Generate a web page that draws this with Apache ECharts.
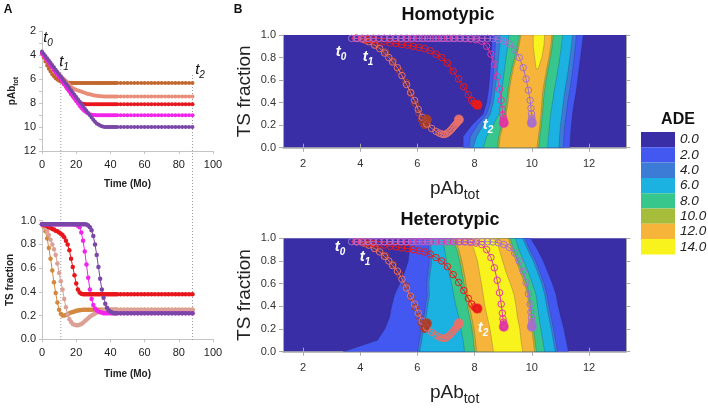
<!DOCTYPE html>
<html>
<head>
<meta charset="utf-8">
<script src="https://cdn.jsdelivr.net/npm/echarts@6/dist/echarts.min.js"></script>
<style>
  html, body { margin: 0; padding: 0; background: #fff; }
  #chart { width: 708px; height: 409px; }
</style>
</head>
<body>
<div id="chart"></div>
<script>
// time points of the model runs (months)
const months = [0,1,2,3,4,5,6,7,8,9,10,11,12,13,14,15,16,17,18,19,20,21,22,23,24,25,26,27,28,29,30,31,32,33,34,35,36,37,38,39,40,41,42,43,44,
  46,48,50,52,54,56,58,60,62,64,66,68,70,72,74,76,78,80,82,84,86,88];

// pAb_tot over time, one array per run
const pabBrown = [3.85,4.2,4.55,4.88,5.15,5.38,5.6,5.78,5.93,6.05, 6.14,6.2,6.24,6.27,6.29,6.3,6.31,6.32,6.33,6.33,
  6.33,6.33,6.33,6.33,6.33,6.33,6.33,6.33,6.33,6.33, 6.33,6.33,6.33,6.33,6.33,6.33,6.33,6.33,6.33,6.33, 6.33,6.33,6.33,6.33,6.33,
  6.33,6.33,6.33,6.33,6.33,6.33,6.33,6.33,6.33,6.33,6.33,6.33,6.33,6.33,6.33,6.33,6.33,6.33,6.33,6.33,6.33,6.33];
const pabSalmon = [3.9,4.1,4.3,4.5,4.68,4.85,5.0,5.13,5.3,5.46, 5.62,5.76,5.9,6.03,6.17,6.33,6.5,6.65,6.76,6.84,
  6.9,6.95,7.0,7.05,7.1,7.15,7.2,7.24,7.28,7.32, 7.35,7.38,7.4,7.42,7.43,7.44,7.45,7.45,7.45,7.45, 7.45,7.45,7.45,7.45,7.45,
  7.45,7.45,7.45,7.45,7.45,7.45,7.45,7.45,7.45,7.45,7.45,7.45,7.45,7.45,7.45,7.45,7.45,7.45,7.45,7.45,7.45,7.45];
const pabRed = [3.85,4.05,4.25,4.45,4.65,4.85,5.05,5.25,5.45,5.65, 5.85,6.05,6.25,6.45,6.65,6.85,7.05,7.25,7.44,7.62,
  7.78,7.9,7.98,8.03,8.06,8.08,8.1,8.1,8.1,8.1, 8.1,8.1,8.1,8.1,8.1,8.1,8.1,8.1,8.1,8.1, 8.1,8.1,8.1,8.1,8.1,
  8.1,8.1,8.1,8.1,8.1,8.1,8.1,8.1,8.1,8.1,8.1,8.1,8.1,8.1,8.1,8.1,8.1,8.1,8.1,8.1,8.1,8.1];
const pabMagenta = [3.85,4.05,4.25,4.45,4.65,4.85,5.05,5.25,5.45,5.65, 5.85,6.05,6.25,6.45,6.65,6.85,7.05,7.25,7.45,7.65,
  7.85,8.05,8.25,8.42,8.57,8.69,8.79,8.87,8.93,8.97, 8.99,9.01,9.02,9.02,9.02,9.02,9.02,9.02,9.02,9.02, 9.02,9.02,9.02,9.02,9.02,
  9.02,9.02,9.02,9.02,9.02,9.02,9.02,9.02,9.02,9.02,9.02,9.02,9.02,9.02,9.02,9.02,9.02,9.02,9.02,9.02,9.02,9.02];
const pabPurple = [3.7,3.89,4.08,4.27,4.46,4.65,4.84,5.03,5.22,5.41, 5.6,5.79,5.98,6.17,6.36,6.55,6.74,6.93,7.12,7.31,
  7.5,7.69,7.88,8.07,8.26,8.45,8.64,8.83,9.02,9.21, 9.4,9.56,9.7,9.8,9.88,9.94,9.97,9.99,10,10, 10,10,10,10,10,
  10,10,10,10,10,10,10,10,10,10,10,10,10,10,10,10,10,10,10,10,10,10];

// TS fraction over time, one array per run
const tsBrown = [0.97,0.95,0.91,0.85,0.77,0.68,0.58,0.48,0.39,0.31, 0.25,0.215,0.2,0.2,0.205,0.21,0.22,0.225,0.23,0.235,
  0.24,0.243,0.245,0.247,0.25,0.25,0.25,0.25,0.25,0.25, 0.25,0.25,0.25,0.25,0.25,0.25,0.25,0.25,0.25,0.25, 0.25,0.25,0.25,0.25,0.25,
  0.25,0.25,0.25,0.25,0.25,0.25,0.25,0.25,0.25,0.25,0.25,0.25,0.25,0.25,0.25,0.25,0.25,0.25,0.25,0.25,0.25,0.25];
const tsSalmon = [0.97,0.96,0.94,0.91,0.88,0.84,0.8,0.76,0.71,0.64, 0.56,0.49,0.42,0.34,0.27,0.21,0.17,0.145,0.13,0.122,
  0.118,0.118,0.122,0.13,0.14,0.152,0.165,0.178,0.19,0.2, 0.21,0.218,0.225,0.23,0.235,0.24,0.243,0.246,0.248,0.25, 0.25,0.25,0.25,0.25,0.25,
  0.25,0.25,0.25,0.25,0.25,0.25,0.25,0.25,0.25,0.25,0.25,0.25,0.25,0.25,0.25,0.25,0.25,0.25,0.25,0.25,0.25,0.25];
const tsRed = [0.97,0.965,0.96,0.955,0.945,0.94,0.93,0.925,0.915,0.91, 0.9,0.89,0.88,0.86,0.83,0.8,0.75,0.68,0.61,0.54,
  0.47,0.42,0.395,0.385,0.38,0.38,0.38,0.38,0.38,0.38, 0.38,0.38,0.38,0.38,0.38,0.38,0.38,0.38,0.38,0.38, 0.38,0.38,0.38,0.38,0.38,
  0.38,0.38,0.38,0.38,0.38,0.38,0.38,0.38,0.38,0.38,0.38,0.38,0.38,0.38,0.38,0.38,0.38,0.38,0.38,0.38,0.38,0.38];
const tsMagenta = [0.97,0.97,0.97,0.97,0.97,0.97,0.97,0.97,0.97,0.97, 0.97,0.97,0.97,0.97,0.97,0.97,0.97,0.97,0.97,0.968,
  0.965,0.958,0.945,0.9,0.83,0.74,0.63,0.52,0.42,0.34, 0.29,0.26,0.245,0.235,0.228,0.225,0.22,0.22,0.22,0.22, 0.22,0.22,0.22,0.22,0.22,
  0.22,0.22,0.22,0.22,0.22,0.22,0.22,0.22,0.22,0.22,0.22,0.22,0.22,0.22,0.22,0.22,0.22,0.22,0.22,0.22,0.22,0.22];
const tsPurple = [0.97,0.97,0.97,0.97,0.97,0.97,0.97,0.97,0.97,0.97, 0.97,0.97,0.97,0.97,0.97,0.97,0.97,0.97,0.97,0.97,
  0.97,0.97,0.97,0.97,0.97,0.97,0.968,0.96,0.945,0.92, 0.87,0.8,0.71,0.61,0.51,0.42,0.35,0.3,0.265,0.245, 0.232,0.225,0.22,0.22,0.22,
  0.22,0.22,0.22,0.22,0.22,0.22,0.22,0.22,0.22,0.22,0.22,0.22,0.22,0.22,0.22,0.22,0.22,0.22,0.22,0.22,0.22,0.22];

// t1 and t2 (months)
const markTimes = [11, 88];

// ADE contour levels and legend labels
const adeLevels = [0, 2, 4, 6, 8, 10, 12, 14];
const adeLabels = ['0.0', '2.0', '4.0', '6.0', '8.0', '10.0', '12.0', '14.0'];
const pabTicks = [2, 4, 6, 8, 10, 12];

// contour boundaries: pAb position of each level's left/right edge at these TS rows
const tsRows = [0, 0.1, 0.2, 0.3, 0.4, 0.5, 0.6, 0.7, 0.8, 0.9, 1];

const homoLeft2 = [7.6,7.6,7.9,8.3,8.42,8.48,8.52,8.55,8.58,8.6,8.62];
const homoRight2 = [11.33,11.35,11.38,11.42,11.48,11.55,11.6,11.65,11.7,11.75,11.8];
const homoLeft4 = [7.8,7.85,8.1,8.42,8.55,8.6,8.64,8.67,8.7,8.72,8.74];
const homoRight4 = [11.1,11.12,11.15,11.2,11.25,11.32,11.38,11.43,11.48,11.52,11.56];
const homoLeft6 = [7.95,8.07,8.3,8.55,8.65,8.71,8.76,8.8,8.84,8.88,8.9];
const homoRight6 = [10.95,10.97,11.0,11.05,11.1,11.15,11.22,11.28,11.33,11.38,11.42];
const homoLeft8 = [8.3,8.42,8.65,8.85,8.92,8.95,9.0,9.05,9.1,9.16,9.2];
const homoRight8 = [10.55,10.58,10.62,10.66,10.72,10.78,10.85,10.92,10.98,11.03,11.08];
const homoLeft10 = [8.8,8.84,8.95,9.05,9.12,9.16,9.22,9.3,9.4,9.5,9.57];
const homoRight10 = [10.24,10.28,10.33,10.37,10.4,10.44,10.5,10.57,10.65,10.71,10.75];
const homoLeft12 = [8.85,8.89,9.0,9.1,9.17,9.21,9.27,9.35,9.45,9.55,9.62];
const homoRight12 = [10.18,10.23,10.28,10.32,10.35,10.38,10.45,10.52,10.6,10.66,10.7];
const homoLeft14 = [null,null,null,null,null,null,null,10.15,10.1,10.05,10.05];
const homoRight14 = [null,null,null,null,null,null,null,10.22,10.35,10.42,10.45];

const heteroLeft2 = [3.4,4.6,4.86,5.02,5.1,5.2,5.38,5.55,5.68,5.72,5.75];
const heteroRight2 = [11.28,11.2,11.12,11.02,10.92,10.85,10.72,10.56,10.4,10.2,9.95];
const heteroLeft4 = [6.0,6.07,6.14,6.22,6.28,6.34,6.32,6.37,6.42,6.4,6.36];
const heteroRight4 = [10.9,10.83,10.76,10.68,10.6,10.53,10.43,10.28,10.13,9.93,9.76];
const heteroLeft6 = [6.08,6.15,6.22,6.3,6.36,6.42,6.4,6.45,6.5,6.48,6.44];
const heteroRight6 = [10.82,10.75,10.68,10.6,10.52,10.45,10.35,10.2,10.05,9.85,9.68];
const heteroLeft8 = [7.65,7.6,7.52,7.45,7.35,7.27,7.2,7.1,7.02,6.95,6.9];
const heteroRight8 = [10.45,10.38,10.32,10.25,10.2,10.15,10.02,9.88,9.72,9.55,9.42];
const heteroLeft10 = [8.0,7.96,7.91,7.83,7.75,7.69,7.63,7.56,7.48,7.38,7.23];
const heteroRight10 = [10.16,10.11,10.06,10.01,9.96,9.91,9.81,9.66,9.51,9.36,9.24];
const heteroLeft12 = [8.07,8.03,7.98,7.9,7.82,7.76,7.7,7.63,7.55,7.45,7.3];
const heteroRight12 = [10.1,10.05,10.0,9.95,9.9,9.85,9.75,9.6,9.45,9.3,9.18];
const heteroLeft14 = [8.66,8.6,8.54,8.45,8.36,8.3,8.24,8.17,8.1,7.98,7.84];
const heteroRight14 = [9.68,9.62,9.58,9.5,9.45,9.38,9.25,9.1,8.98,8.86,8.77];

// ---- styling ----
const FONT = '"Liberation Sans", Arial, sans-serif';
const adeColors = ['#3a2ea6', '#4258f0', '#3c7bd6', '#1bb2e2', '#37c78d', '#a6bd3b', '#f6b53a', '#f8f31c'];
const colorsTop = ['#c0682e', '#e98d78', '#e8161c', '#f224ea', '#7a46a8'];
const colorsBottom = ['#d4883f', '#dba096', '#e8161c', '#f224ea', '#7a46a8'];
const colorsB = ['#a83e2a', '#e8716a', '#ea1a1a', '#e236a4', '#a56ed0'];

const runPab = [pabBrown, pabSalmon, pabRed, pabMagenta, pabPurple];
const runTs = [tsBrown, tsSalmon, tsRed, tsMagenta, tsPurple];

const homoBands = [
  [2, homoLeft2, homoRight2], [4, homoLeft4, homoRight4], [6, homoLeft6, homoRight6],
  [8, homoLeft8, homoRight8], [10, homoLeft10, homoRight10], [12, homoLeft12, homoRight12],
  [14, homoLeft14, homoRight14]
];
const heteroBands = [
  [2, heteroLeft2, heteroRight2], [4, heteroLeft4, heteroRight4], [6, heteroLeft6, heteroRight6],
  [8, heteroLeft8, heteroRight8], [10, heteroLeft10, heteroRight10], [12, heteroLeft12, heteroRight12],
  [14, heteroLeft14, heteroRight14]
];

const gray = '#a8a8a8';
const subRich = (size, sub, bold, drop) => ({
  a: { fontSize: size, fontWeight: bold ? 'bold' : 'normal', color: '#222', lineHeight: size + 6, fontFamily: FONT },
  s: { fontSize: sub, fontWeight: bold ? 'bold' : 'normal', color: '#222', lineHeight: size + 6, verticalAlign: 'bottom', padding: [drop, 0, 0, 0], fontFamily: FONT }
});

// axes of panel A
function axisA(gridIndex, extra) {
  return Object.assign({
    gridIndex: gridIndex,
    type: 'value',
    axisLine: { show: true, lineStyle: { color: '#c4c4c4' } },
    axisTick: { show: true, length: 3, lineStyle: { color: '#c4c4c4' } },
    axisLabel: { color: '#222', fontSize: 11, fontFamily: FONT },
    splitLine: { show: false }
  }, extra);
}

// axes of panel B
function axisB(gridIndex, extra) {
  return Object.assign({
    gridIndex: gridIndex,
    type: 'value',
    axisLine: { show: true, lineStyle: { color: gray, width: 1 } },
    axisTick: { show: true, length: 4, inside: false, lineStyle: { color: gray } },
    axisLabel: { color: '#333', fontSize: 11, fontFamily: FONT },
    splitLine: { show: false }
  }, extra);
}

const tsAxisB = (gridIndex, right) => axisB(gridIndex, {
  min: 0, max: 1, interval: 0.2,
  position: right ? 'right' : 'left',
  axisLabel: right ? { show: false } : { color: '#333', fontSize: 11, margin: 7, formatter: v => v.toFixed(1) },
  name: right ? '' : 'TS fraction',
  nameLocation: 'middle', nameGap: 29,
  nameTextStyle: { fontSize: 19, color: '#222', fontFamily: FONT }
});

const pabAxisB = (gridIndex, top) => axisB(gridIndex, {
  min: 1.3, max: 13.3,
  position: top ? 'top' : 'bottom',
  axisLine: { show: !top, lineStyle: { color: gray, width: 1.5 } },
  axisTick: { show: true, length: 4, customValues: pabTicks, lineStyle: { color: gray } },
  axisLabel: top ? { show: false } : { color: '#333', fontSize: 11, margin: 11, customValues: pabTicks },
  name: top ? '' : '{a|pAb}{s|tot}',
  nameLocation: 'middle', nameGap: 29,
  nameTextStyle: { rich: subRich(19, 14, false, 10) }
});

function contourSeries(bands, axisIndex) {
  return {
    type: 'custom',
    xAxisIndex: axisIndex, yAxisIndex: axisIndex,
    silent: true, clip: true, z: 1,
    data: bands.map(b => [b[0], 0]),
    renderItem: function (params, api) {
      const band = bands[params.dataIndex];
      const pts = [];
      for (let i = 0; i < tsRows.length; i++) {
        if (band[1][i] != null) pts.push(api.coord([band[1][i], tsRows[i]]));
      }
      for (let i = tsRows.length - 1; i >= 0; i--) {
        if (band[2][i] != null) pts.push(api.coord([band[2][i], tsRows[i]]));
      }
      return {
        type: 'polygon',
        shape: { points: pts },
        style: { fill: api.visual('color'), stroke: 'rgba(30,30,70,0.35)', lineWidth: 0.6 }
      };
    }
  };
}

const series = [contourSeries(homoBands, 2), contourSeries(heteroBands, 4)];

// panel A: pAb and TS fraction over time
runPab.forEach((arr, k) => {
  series.push({
    type: 'line', xAxisIndex: 0, yAxisIndex: 0, silent: true, z: 3,
    data: months.map((t, i) => [t, arr[i]]),
    symbol: 'circle', symbolSize: 4, showAllSymbol: true,
    lineStyle: { color: colorsTop[k], width: 1.2 },
    itemStyle: { color: colorsTop[k] }
  });
});
runTs.forEach((arr, k) => {
  series.push({
    type: 'line', xAxisIndex: 1, yAxisIndex: 1, silent: true, z: 3,
    data: months.map((t, i) => [t, arr[i]]),
    symbol: 'circle', symbolSize: 4.5, showAllSymbol: true,
    lineStyle: { color: colorsBottom[k], width: 1 },
    itemStyle: { color: colorsBottom[k] }
  });
});

// panel B: trajectories in the (pAb, TS) plane
[2, 4].forEach(ax => {
  runPab.forEach((arr, k) => {
    const pts = arr.map((x, i) => [x, runTs[k][i]]);
    series.push({
      type: 'line', xAxisIndex: ax, yAxisIndex: ax, silent: true, z: 3,
      data: pts,
      symbol: 'circle', symbolSize: 6.5, showAllSymbol: true,
      lineStyle: { color: colorsB[k], width: 1 },
      itemStyle: { color: 'rgba(0,0,0,0)', borderColor: colorsB[k], borderWidth: 1 }
    });
    series.push({
      type: 'scatter', xAxisIndex: ax, yAxisIndex: ax, silent: true, z: 4,
      data: [pts[pts.length - 1]],
      symbolSize: 10,
      itemStyle: { color: colorsB[k] }
    });
  });
});

// dotted t1 / t2 lines crossing both A panels
markTimes.forEach((t, i) => {
  series.push({
    type: 'line', xAxisIndex: 6, yAxisIndex: 6, silent: true, z: 0,
    data: [[t, 0], [t, i === 0 ? 0.92 : 0.86]],
    symbol: 'none',
    lineStyle: { color: '#9a9a9a', width: 1, type: [1, 2] }
  });
});

const tRich = (color, bold) => ({
  a: { fontSize: 15, fontStyle: 'italic', fontWeight: bold ? 'bold' : 'normal', fill: color, color: color, lineHeight: 20, fontFamily: FONT },
  s: { fontSize: 10, fontStyle: 'italic', fontWeight: bold ? 'bold' : 'normal', fill: color, color: color, lineHeight: 20, verticalAlign: 'bottom', padding: [7, 0, 0, 0], fontFamily: FONT }
});
function tLabel(x, y, n, color, bold) {
  return {
    type: 'text', x: x, y: y, z: 100, silent: true,
    style: { text: '{a|t}{s|' + n + '}', rich: tRich(color, bold), align: 'center', verticalAlign: 'middle' }
  };
}
function plainText(x, y, text, size, extra) {
  return {
    type: 'text', x: x, y: y, z: 100, silent: true,
    style: Object.assign({ text: text, font: 'bold ' + size + 'px ' + FONT, fill: '#111', align: 'center', verticalAlign: 'middle' }, extra || {})
  };
}

const option = {
  animation: false,
  backgroundColor: '#fff',
  textStyle: { fontFamily: FONT },
  grid: [
    { left: 42, top: 31, width: 171, height: 120 },
    { left: 42, top: 220.7, width: 171, height: 118.6 },
    { left: 283, top: 35, width: 343.2, height: 112.7, show: true, backgroundColor: adeColors[0], borderWidth: 0 },
    { left: 283, top: 238.3, width: 343.2, height: 113.4, show: true, backgroundColor: adeColors[0], borderWidth: 0 },
    { left: 42, top: 31, width: 171, height: 309 }
  ],
  xAxis: [
    axisA(0, { min: 0, max: 100, interval: 20, axisLabel: { color: '#222', fontSize: 11, margin: 8 },
      name: 'Time (Mo)', nameLocation: 'middle', nameGap: 28, nameTextStyle: { fontWeight: 'bold', fontSize: 10, color: '#222' } }),
    axisA(1, { min: 0, max: 100, interval: 20, axisLabel: { color: '#222', fontSize: 11, margin: 8 },
      name: 'Time (Mo)', nameLocation: 'middle', nameGap: 30, nameTextStyle: { fontWeight: 'bold', fontSize: 10, color: '#222' } }),
    pabAxisB(2, false),
    pabAxisB(2, true),
    pabAxisB(3, false),
    pabAxisB(3, true),
    { gridIndex: 4, type: 'value', min: 0, max: 100, show: false }
  ],
  yAxis: [
    axisA(0, { min: 2, max: 12, interval: 2, inverse: true,
      minorTick: { show: true, splitNumber: 2, length: 3, lineStyle: { color: '#c4c4c4' } },
      axisLabel: { color: '#222', fontSize: 11, margin: 6 },
      name: '{a|pAb}{s|tot}', nameLocation: 'middle', nameRotate: 90, nameGap: 22,
      nameTextStyle: { rich: subRich(10, 7, true, 4) } }),
    axisA(1, { min: 0, max: 1, interval: 0.2,
      axisLabel: { color: '#222', fontSize: 11, margin: 6, formatter: v => v.toFixed(1) },
      name: 'TS fraction', nameLocation: 'middle', nameRotate: 90, nameGap: 27,
      nameTextStyle: { fontWeight: 'bold', fontSize: 10, color: '#222' } }),
    tsAxisB(2, false),
    tsAxisB(2, true),
    tsAxisB(3, false),
    tsAxisB(3, true),
    { gridIndex: 4, type: 'value', min: 0, max: 1, show: false }
  ],
  visualMap: {
    type: 'piecewise',
    seriesIndex: [0, 1],
    dimension: 0,
    orient: 'vertical',
    inverse: true,
    align: 'left',
    padding: 0,
    left: 641, top: 132,
    itemWidth: 34, itemHeight: 15.3, itemGap: 0, textGap: 5,
    itemSymbol: 'rect',
    selectedMode: false, hoverLink: false,
    textStyle: { fontSize: 13.5, fontStyle: 'italic', color: '#222', fontFamily: FONT },
    pieces: adeLevels.map((v, i) => ({ value: v, label: adeLabels[i], color: adeColors[i] }))
  },
  series: series,
  graphic: [
    plainText(8, 10, 'A', 12),
    plainText(238, 10, 'B', 12),
    plainText(448, 15, 'Homotypic', 18),
    plainText(450, 220, 'Heterotypic', 18),
    plainText(678, 120, 'ADE', 16),
    tLabel(48, 38, '0', '#111', false),
    tLabel(64, 62, '1', '#111', false),
    tLabel(200, 70, '2', '#111', false),
    tLabel(341, 52, '0', '#fff', true),
    tLabel(368, 57, '1', '#fff', true),
    tLabel(488, 125, '2', '#fff', true),
    tLabel(340, 247, '0', '#fff', true),
    tLabel(365, 257, '1', '#fff', true),
    tLabel(483, 328, '2', '#fff', true)
  ]
};

const chart = echarts.init(document.getElementById('chart'), null, { renderer: 'canvas' });
chart.setOption(option);
</script>
</body>
</html>
